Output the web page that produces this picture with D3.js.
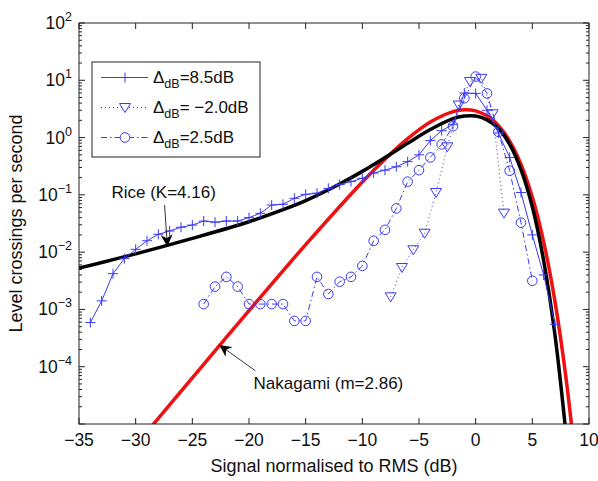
<!DOCTYPE html>
<html><head><meta charset="utf-8">
<script src="https://cdn.jsdelivr.net/npm/d3@7"></script>
<style>
html,body{margin:0;padding:0;background:#fff;}
svg{display:block;font-family:"Liberation Sans",Arial,Helvetica,sans-serif;}
</style></head><body>
<svg id="chart" width="598" height="481"></svg>
<script>
// Measured level crossing rates (crossings per second) vs signal level (dB re RMS)
const plusX = [-34,-33,-32,-31,-30,-29,-28,-27,-26,-25,-24,-23,-22,-21,-20,-19,-18,-17,-16,-15,-14,-13,-12,-11,-10,-9,-8,-7,-6,-5,-4,-3,-2,-1,0,1,2,3,4,5,6,7];
const plusY = [5.9e-4,1.41e-3,4.2e-3,7.7e-3,0.0112,0.0158,0.0205,0.0234,0.0272,0.0297,0.0349,0.0333,0.0349,0.0349,0.040,0.0476,0.0665,0.0685,0.0871,0.102,0.107,0.130,0.152,0.170,0.195,0.240,0.270,0.310,0.380,0.50,0.89,1.32,1.7,6.0,5.9,3.0,1.2,0.45,0.11,0.02,0.004,5.5e-4];

const triX = [-7.5,-6.5,-5.5,-4.5,-3.5,-2.5,-1.5,-0.5,0.5,1.5,2.5];
const triY = [1.66e-3,5.4e-3,0.011,0.0214,0.11,0.69,3.7,9.5,10.8,2.6,0.048];

const circX = [-24,-23,-22,-21,-20,-19,-18,-17,-16,-15,-14,-13,-12,-11,-10,-9,-8,-7,-6,-5,-4,-3,-2,-1,0,1,2,3,4,5];
const circY = [1.24e-3,2.5e-3,3.7e-3,2.5e-3,1.24e-3,1.24e-3,1.24e-3,1.24e-3,6.3e-4,6.3e-4,3.7e-3,1.86e-3,3.05e-3,3.7e-3,5.75e-3,0.0158,0.0245,0.058,0.17,0.27,0.45,0.76,1.58,4.85,11.6,5.9,1.26,0.264,0.0327,3.16e-3];

// Theoretical curves
const riceX = [-35,-30,-25,-20,-17,-15,-12,-10,-8,-6,-4,-2,-1,0,1,2,3,4,5,6,7,8];
const riceY = [5.25e-3,9.33e-3,0.0174,0.0339,0.055,0.0794,0.155,0.257,0.447,0.794,1.38,2.14,2.37,2.38,2.04,1.45,0.759,0.275,0.0617,7.08e-3,3.55e-4,5.9e-6];
const nakX = [-29,-25,-20,-15,-10,-8,-6,-4,-2,-1,0,1,2,3,4,5,6,7,8,9];
const nakY = [7.3e-6,6.4e-5,9.5e-4,0.0135,0.168,0.42,0.957,1.87,2.84,3.07,2.93,2.40,1.63,0.869,0.341,0.0914,0.0151,1.37e-3,5.75e-5,9.3e-7];

const xTicks = [-35,-30,-25,-20,-15,-10,-5,0,5,10];
const yExponents = [2,1,0,-1,-2,-3,-4];

const legendLabels = [
  {sub:"dB", rest:"=8.5dB", marker:"plus", dash:null},
  {sub:"dB", rest:"= \u22122.0dB", marker:"tri", dash:"1,3"},
  {sub:"dB", rest:"=2.5dB", marker:"circ", dash:"6,3,1.5,3"}
];

const svg = d3.select("#chart");
const P = {left:79, right:589, top:23, bottom:424};
const x = d3.scaleLinear().domain([-35,10]).range([P.left,P.right]);
const y = d3.scaleLog().domain([1e-5,1e2]).range([P.bottom,P.top]);
const BLUE = "#3a3af2";

svg.append("defs").append("clipPath").attr("id","plotclip")
  .append("rect").attr("x",P.left).attr("y",P.top)
  .attr("width",P.right-P.left).attr("height",P.bottom-P.top);

// axes with inward ticks
const minorVals = [];
for (let k=-5;k<2;k++) for (let m=2;m<=9;m++) minorVals.push(m*Math.pow(10,k));
const majorVals = d3.range(-5,3).map(k=>Math.pow(10,k));

const axG = svg.append("g").attr("stroke","#222").attr("stroke-width",1);
xTicks.forEach(v=>{
  axG.append("line").attr("x1",x(v)).attr("x2",x(v)).attr("y1",P.bottom).attr("y2",P.bottom-6);
  axG.append("line").attr("x1",x(v)).attr("x2",x(v)).attr("y1",P.top).attr("y2",P.top+6);
});
majorVals.forEach(v=>{
  axG.append("line").attr("x1",P.left).attr("x2",P.left+6).attr("y1",y(v)).attr("y2",y(v));
  axG.append("line").attr("x1",P.right).attr("x2",P.right-6).attr("y1",y(v)).attr("y2",y(v));
});
minorVals.forEach(v=>{
  axG.append("line").attr("x1",P.left).attr("x2",P.left+3).attr("y1",y(v)).attr("y2",y(v));
  axG.append("line").attr("x1",P.right).attr("x2",P.right-3).attr("y1",y(v)).attr("y2",y(v));
});

const fmt = d3.format("d");
svg.append("g").selectAll("text").data(xTicks).join("text")
  .attr("x",d=>x(d)).attr("y",P.bottom+22)
  .attr("text-anchor","middle").attr("font-size",17.5).attr("fill","#111")
  .text(d=>fmt(d).replace("-","\u2212"));

const yl = svg.append("g").attr("fill","#111");
yExponents.forEach(e=>{
  const t = yl.append("text").attr("x",P.left-7).attr("y",y(Math.pow(10,e))+6)
    .attr("text-anchor","end").attr("font-size",17.5);
  t.append("tspan").text("10");
  t.append("tspan").attr("dy",-8).attr("font-size",12.5).text(String(e).replace("-","\u2212"));
});

svg.append("text").attr("x",(P.left+P.right)/2).attr("y",472)
  .attr("text-anchor","middle").attr("font-size",18).attr("fill","#111")
  .text("Signal normalised to RMS (dB)");
svg.append("text").attr("transform",`translate(22,${(P.top+P.bottom)/2}) rotate(-90)`)
  .attr("text-anchor","middle").attr("font-size",18).attr("fill","#111")
  .text("Level crossings per second");

// plotted data
const plotG = svg.append("g").attr("clip-path","url(#plotclip)");
const line = d3.line().x(d=>x(d[0])).y(d=>y(d[1]));
const smooth = d3.line().x(d=>x(d[0])).y(d=>y(d[1])).curve(d3.curveCatmullRom.alpha(0.5));

plotG.append("path").datum(d3.zip(nakX,nakY)).attr("d",smooth)
  .attr("fill","none").attr("stroke","#ee1111").attr("stroke-width",3.5);
plotG.append("path").datum(d3.zip(riceX,riceY)).attr("d",smooth)
  .attr("fill","none").attr("stroke","#000").attr("stroke-width",3.5);

function marker(g, type, cx, cy){
  if (type==="plus") {
    g.append("path").attr("d",`M${cx-5},${cy}H${cx+5}M${cx},${cy-5}V${cy+5}`);
  } else if (type==="tri") {
    g.append("path").attr("d",`M${cx-5.5},${cy-4}L${cx+5.5},${cy-4}L${cx},${cy+5}Z`);
  } else {
    g.append("circle").attr("cx",cx).attr("cy",cy).attr("r",4.8);
  }
}

const series = [
  {xs:plusX, ys:plusY, type:"plus", dash:null},
  {xs:triX, ys:triY, type:"tri", dash:"1,3"},
  {xs:circX, ys:circY, type:"circ", dash:"6,3,1.5,3"}
];
series.forEach(s=>{
  const pts = d3.zip(s.xs,s.ys);
  plotG.append("path").datum(pts).attr("d",line)
    .attr("fill","none").attr("stroke",BLUE).attr("stroke-width",1)
    .attr("stroke-dasharray",s.dash);
  const mg = plotG.append("g").attr("fill","none").attr("stroke",BLUE).attr("stroke-width",1);
  pts.forEach(p=>marker(mg,s.type,x(p[0]),y(p[1])));
});

// annotations
const defs = svg.select("defs");
defs.append("marker").attr("id","ah").attr("viewBox","0 0 10 10")
  .attr("refX",10).attr("refY",5).attr("markerWidth",12).attr("markerHeight",12)
  .attr("markerUnits","userSpaceOnUse").attr("orient","auto")
  .append("path").attr("d","M0,0L10,5L0,10L3,5Z").attr("fill","#000");

const riceNote = {tx:-27.53, ty:0.1135, x0:-27.45, y0:0.0665, x1:-27.2, y1:0.0125};
const nakNote = {tx:-19.6, ty:5.1e-5, x0:-19.44, y0:8.5e-5, x1:-22.62, y1:2.4e-4};

svg.append("text").attr("x",x(riceNote.tx)).attr("y",y(riceNote.ty)+6)
  .attr("text-anchor","middle").attr("font-size",17).attr("fill","#111").text("Rice (K=4.16)");
svg.append("line").attr("x1",x(riceNote.x0)).attr("y1",y(riceNote.y0))
  .attr("x2",x(riceNote.x1)).attr("y2",y(riceNote.y1))
  .attr("stroke","#000").attr("stroke-width",0.8).attr("marker-end","url(#ah)");
svg.append("text").attr("x",x(nakNote.tx)).attr("y",y(nakNote.ty)+6)
  .attr("font-size",17).attr("fill","#111").text("Nakagami (m=2.86)");
svg.append("line").attr("x1",x(nakNote.x0)).attr("y1",y(nakNote.y0))
  .attr("x2",x(nakNote.x1)).attr("y2",y(nakNote.y1))
  .attr("stroke","#000").attr("stroke-width",0.8).attr("marker-end","url(#ah)");

// frame
svg.append("rect").attr("x",P.left).attr("y",P.top)
  .attr("width",P.right-P.left).attr("height",P.bottom-P.top)
  .attr("fill","none").attr("stroke","#222").attr("stroke-width",1);

// legend
const lg = svg.append("g").attr("transform","translate(92,62)");
lg.append("rect").attr("width",168).attr("height",95).attr("fill","#fff").attr("stroke","#222").attr("stroke-width",1);
legendLabels.forEach((d,i)=>{
  const cy = 15.5 + i*30;
  lg.append("line").attr("x1",9).attr("x2",56).attr("y1",cy).attr("y2",cy)
    .attr("stroke",BLUE).attr("stroke-width",1).attr("stroke-dasharray",d.dash);
  const mg = lg.append("g").attr("fill","#fff").attr("stroke",BLUE).attr("stroke-width",1);
  marker(mg,d.marker,33,cy);
  const t = lg.append("text").attr("x",61).attr("y",cy+5).attr("font-size",17).attr("fill","#111");
  t.append("tspan").text("\u0394");
  t.append("tspan").attr("dy",5).attr("font-size",12.5).text(d.sub);
  t.append("tspan").attr("dy",-5).text(d.rest);
});
</script>
</body></html>
